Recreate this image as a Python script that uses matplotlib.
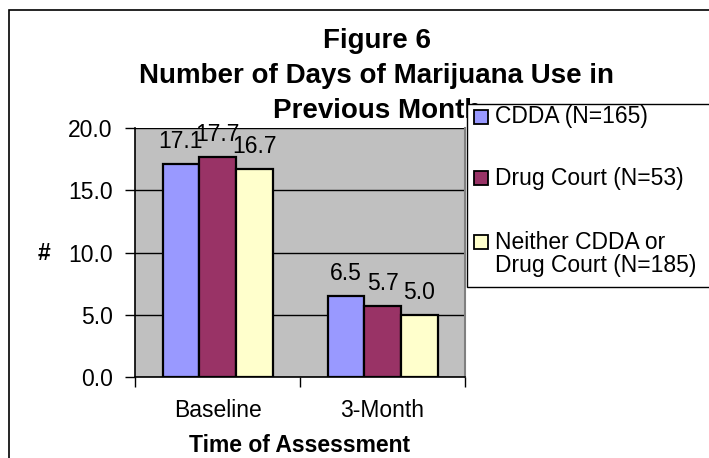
import matplotlib
matplotlib.use('Agg')
import matplotlib.pyplot as plt
from matplotlib.patches import Rectangle
import numpy as np

plt.rcParams['font.family'] = ['Liberation Sans', 'DejaVu Sans']

# Данные
periods = ['Baseline', '3-Month']
groups = ['CDDA (N=165)', 'Drug Court (N=53)', 'Neither CDDA or\nDrug Court (N=185)']
cdda = [17.1, 6.5]
drug_court = [17.7, 5.7]
neither = [16.7, 5.0]
series = [cdda, drug_court, neither]
colors = ['#9999FF', '#993366', '#FFFFCC']
title_lines = ['Figure 6', 'Number of Days of Marijuana Use in', 'Previous Month']
y_ticks = [0, 5, 10, 15, 20]

W, H = 709, 458
FS = 16.5
fig = plt.figure(figsize=(W / 100, H / 100), dpi=100)
fig.patch.set_facecolor('white')

# рамка всей диаграммы (справа и снизу обрезана)
fig.patches.append(Rectangle((9 / W, -0.1), 1.2, 1.1 - 10 / H, transform=fig.transFigure,
                             facecolor='none', edgecolor='black', linewidth=1.2, zorder=0))

ax = fig.add_axes([135 / W, 1 - 377 / H, 330 / W, 249 / H])
ax.set_facecolor('#C0C0C0')

x = np.arange(len(periods))
w = 1 / 4.5
for i, (vals, c) in enumerate(zip(series, colors)):
    pos = x + (i - 1) * w
    bars = ax.bar(pos, vals, width=w, color=c, edgecolor='black', linewidth=1.6, zorder=3)
    for b, v in zip(bars, vals):
        ax.annotate(f'{v:.1f}', (b.get_x() + b.get_width() / 2, v),
                    xytext=(0, 11.5), textcoords='offset points',
                    ha='center', va='baseline', fontsize=FS, zorder=4)

ax.set_xlim(-0.5, len(periods) - 0.5)
ax.set_ylim(0, 20)
ax.set_yticks(y_ticks)
ax.set_yticklabels([f'{t:.1f}' for t in y_ticks], fontsize=FS)
ax.tick_params(axis='y', direction='out', length=7, width=1, pad=9)
ax.grid(axis='y', color='black', linewidth=1, zorder=1)

# деления по границам категорий, подписи по центрам
ax.set_xticks(np.arange(len(periods) + 1) - 0.5)
ax.set_xticklabels([])
ax.tick_params(axis='x', which='major', direction='out', length=7, width=1)
ax.set_xticks(x, minor=True)
ax.set_xticklabels(periods, minor=True, fontsize=FS)
ax.tick_params(axis='x', which='minor', length=0, pad=16)

for s in ['left', 'bottom']:
    ax.spines[s].set_color('black')
    ax.spines[s].set_linewidth(1.2)
ax.spines['top'].set_visible(False)
ax.spines['right'].set_color('#808080')
ax.spines['right'].set_linewidth(1.5)

ax.set_ylabel('#', fontsize=FS, fontweight='bold', rotation=0, va='center', ha='center')
ax.yaxis.set_label_coords((44 - 135) / 330, (377 - 253) / 249)
ax.set_xlabel('Time of Assessment', fontsize=FS, fontweight='bold')
ax.xaxis.set_label_coords(0.5, (377 - 445) / 249)
ax.xaxis.label.set_va('center')

# заголовок в три строки, по центру всей области диаграммы
for k, line in enumerate(title_lines):
    fig.text(377 / W, 1 - (48 + 35 * k) / H, line, ha='center', va='baseline',
             fontsize=20, fontweight='bold')

# легенда поверх заголовка
fig.patches.append(Rectangle((467 / W, 1 - 287 / H), 0.5, 183 / H, transform=fig.transFigure,
                             facecolor='white', edgecolor='black', linewidth=1, zorder=5))
legend_y = [117, 178, 254]
for lbl, c, yy in zip(groups, colors, legend_y):
    n_lines = lbl.count('\n') + 1
    top = yy - 12.5 * (n_lines - 1)
    fig.patches.append(Rectangle((474 / W, 1 - (top + 7) / H), 14 / W, 14 / H,
                                 transform=fig.transFigure, facecolor=c,
                                 edgecolor='black', linewidth=1.3, zorder=6))
    fig.text(495 / W, 1 - yy / H, lbl, ha='left', va='center', fontsize=FS,
             linespacing=0.95, zorder=6)

fig.savefig('out.png', dpi=100)
